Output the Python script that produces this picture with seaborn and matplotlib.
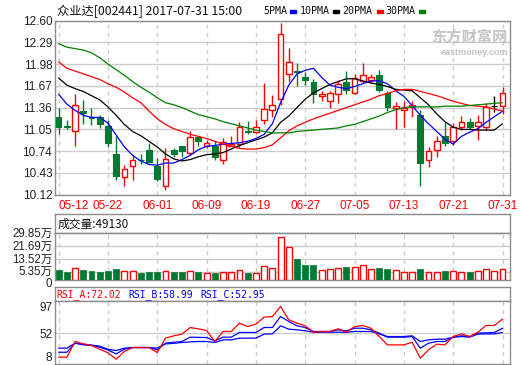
import numpy as np
import pandas as pd
import matplotlib
matplotlib.use("Agg")
import matplotlib.pyplot as plt
import matplotlib.transforms as mtransforms
import seaborn as sns
from matplotlib.patches import Rectangle

sns.set_theme(style="white")
plt.rcParams['font.family'] = ['Liberation Sans', 'Noto Sans CJK SC', 'DejaVu Sans']

# ── Data ───────────────────────────────────────────────────────────────────
date_labels = ['05-12', '05-22', '06-01', '06-09', '06-19',
               '06-27', '07-05', '07-13', '07-21', '07-31']

opens = [11.23, 11.10, 11.02, 11.31, 11.22, 11.23, 11.10, 10.70, 10.37, 10.53,
         10.62, 10.75, 10.53, 10.25, 10.76, 10.81, 10.72, 10.94, 10.82, 10.82,
         10.61, 10.82, 10.84, 11.02, 11.01, 11.19, 11.32, 11.48, 11.84, 11.88,
         11.80, 11.73, 11.52, 11.46, 11.55, 11.73, 11.57, 11.74, 11.76, 11.82,
         11.57, 11.36, 11.33, 11.37, 11.26, 10.61, 10.75, 10.95, 10.88, 11.08,
         11.15, 11.10, 11.08, 11.38, 11.38]
closes = [11.09, 11.09, 11.39, 11.28, 11.21, 11.13, 10.85, 10.38, 10.49, 10.62,
          10.61, 10.59, 10.34, 10.63, 10.70, 10.74, 10.94, 10.89, 10.86, 10.65,
          10.87, 10.84, 11.08, 11.01, 11.08, 11.34, 11.39, 12.41, 12.01, 11.87,
          11.75, 11.56, 11.56, 11.57, 11.70, 11.61, 11.78, 11.82, 11.80, 11.61,
          11.37, 11.38, 11.36, 11.39, 10.57, 10.74, 10.89, 10.86, 11.08, 11.16,
          11.08, 11.16, 11.37, 11.38, 11.57]
highs = [11.36, 11.19, 11.55, 11.47, 11.36, 11.25, 11.18, 10.96, 10.54, 10.69,
         10.70, 10.85, 10.64, 10.78, 10.78, 10.82, 11.02, 10.96, 10.90, 10.88,
         10.93, 10.95, 11.15, 11.17, 11.18, 11.71, 11.54, 12.56, 12.21, 12.00,
         11.87, 11.77, 11.60, 11.60, 11.75, 11.88, 11.84, 12.00, 11.84, 11.90,
         11.60, 11.44, 11.46, 11.46, 11.32, 10.80, 10.95, 11.15, 11.14, 11.24,
         11.21, 11.25, 11.43, 11.53, 11.65]
lows = [10.99, 11.05, 10.81, 11.13, 11.11, 11.07, 10.80, 10.33, 10.25, 10.33,
        10.56, 10.57, 10.32, 10.19, 10.65, 10.65, 10.69, 10.82, 10.78, 10.61,
        10.56, 10.81, 10.80, 10.99, 11.00, 11.12, 11.23, 11.39, 11.73, 11.67,
        11.68, 11.43, 11.46, 11.35, 11.42, 11.56, 11.56, 11.71, 11.71, 11.58,
        11.31, 11.05, 11.08, 11.23, 10.25, 10.52, 10.66, 10.81, 10.83, 11.04,
        11.06, 10.90, 11.04, 11.30, 11.27]

ma5 = [11.55, 11.41, 11.32, 11.25, 11.22, 11.22, 11.14, 10.97, 10.80, 10.68,
       10.60, 10.55, 10.54, 10.57, 10.57, 10.62, 10.68, 10.76, 10.81, 10.82,
       10.84, 10.85, 10.86, 10.88, 10.92, 10.98, 11.13, 11.43, 11.68, 11.84,
       11.89, 11.92, 11.79, 11.68, 11.65, 11.63, 11.66, 11.70, 11.74, 11.74,
       11.70, 11.60, 11.52, 11.39, 11.25, 11.13, 11.02, 10.91, 10.84, 10.95,
       11.01, 11.06, 11.15, 11.23, 11.31]
ma10 = [11.78, 11.68, 11.63, 11.59, 11.53, 11.47, 11.37, 11.25, 11.12, 11.02,
        10.96, 10.88, 10.80, 10.70, 10.63, 10.60, 10.62, 10.66, 10.69, 10.70,
        10.72, 10.77, 10.82, 10.86, 10.90, 10.94, 11.00, 11.15, 11.24, 11.36,
        11.48, 11.57, 11.63, 11.69, 11.73, 11.77, 11.77, 11.74, 11.71, 11.69,
        11.66, 11.62, 11.61, 11.60, 11.50, 11.40, 11.27, 11.16, 11.08, 11.05,
        11.05, 11.04, 11.04, 11.04, 11.13]
ma20 = [12.01, 11.92, 11.88, 11.84, 11.80, 11.76, 11.70, 11.65, 11.58, 11.50,
        11.43, 11.31, 11.20, 11.12, 11.06, 11.02, 10.98, 10.95, 10.92, 10.88,
        10.84, 10.81, 10.78, 10.77, 10.77, 10.79, 10.83, 10.93, 11.03, 11.10,
        11.15, 11.20, 11.24, 11.28, 11.32, 11.36, 11.40, 11.44, 11.48, 11.53,
        11.56, 11.60, 11.62, 11.62, 11.59, 11.56, 11.53, 11.49, 11.45, 11.42,
        11.39, 11.38, 11.37, 11.34, 11.31]
ma30 = [12.27, 12.22, 12.20, 12.18, 12.14, 12.07, 11.98, 11.90, 11.82, 11.73,
        11.65, 11.58, 11.50, 11.43, 11.40, 11.36, 11.31, 11.26, 11.23, 11.20,
        11.16, 11.13, 11.10, 11.07, 11.04, 11.02, 11.00, 11.00, 11.00, 11.02,
        11.03, 11.04, 11.05, 11.06, 11.07, 11.10, 11.12, 11.16, 11.20, 11.24,
        11.29, 11.33, 11.36, 11.37, 11.37, 11.37, 11.37, 11.38, 11.38, 11.38,
        11.39, 11.40, 11.41, 11.42, 11.43]

# volume in 万
volume = [6.46, 5.20, 7.50, 6.46, 6.04, 5.41, 6.04, 7.08, 5.62, 5.62,
          4.79, 5.20, 5.20, 5.62, 5.20, 5.20, 5.62, 5.20, 4.37, 4.58,
          5.20, 5.20, 6.25, 4.58, 4.58, 8.76, 7.50, 26.94, 20.67, 13.35,
          9.59, 9.59, 6.46, 6.88, 7.50, 8.34, 8.13, 9.39, 6.88, 7.71,
          7.08, 6.25, 5.20, 5.20, 7.08, 5.20, 5.20, 6.04, 5.62, 5.20,
          5.41, 5.83, 6.88, 5.83, 6.88]

rsi_a = [17.7, 17.7, 40.1, 36.7, 34.5, 29.0, 24.0, 14.8, 26.0, 31.5,
         31.5, 31.5, 24.4, 44.9, 48.2, 50.6, 60.1, 58.2, 55.8, 40.1,
         54.4, 54.4, 66.3, 61.5, 64.9, 74.9, 75.8, 90.1, 71.1, 66.3,
         62.5, 53.4, 54.4, 54.4, 58.2, 53.4, 61.5, 63.0, 59.1, 47.2,
         35.3, 35.3, 35.3, 39.1, 16.3, 28.2, 36.3, 35.3, 47.2, 51.0,
         47.2, 53.4, 63.0, 63.0, 72.0]
rsi_b = [24.8, 24.8, 37.7, 35.3, 34.5, 32.0, 28.0, 22.4, 29.1, 31.5,
         31.5, 31.5, 28.2, 37.7, 39.0, 40.1, 46.3, 46.0, 45.8, 41.0,
         46.3, 46.3, 53.0, 53.0, 53.0, 60.1, 60.1, 75.8, 68.7, 62.5,
         60.1, 54.4, 54.4, 54.4, 56.8, 55.3, 59.1, 59.1, 56.8, 52.0,
         46.3, 46.3, 46.3, 47.2, 30.6, 37.7, 40.1, 40.1, 46.3, 48.2,
         47.2, 52.0, 52.5, 53.0, 59.0]
rsi_c = [30.6, 30.6, 37.7, 36.3, 35.0, 33.5, 29.0, 27.2, 30.6, 31.5,
         31.5, 31.5, 30.6, 36.7, 37.5, 38.7, 39.5, 40.1, 40.1, 38.7,
         42.5, 42.5, 44.9, 44.9, 44.9, 50.6, 51.0, 62.5, 57.7, 56.8,
         55.3, 53.4, 53.4, 53.4, 53.4, 53.4, 54.4, 54.4, 54.4, 51.0,
         47.2, 47.2, 47.2, 48.2, 40.1, 42.5, 43.4, 43.4, 46.3, 47.2,
         46.3, 50.6, 51.0, 51.0, 52.95]

price_ticks = [12.60, 12.29, 11.98, 11.67, 11.36, 11.05, 10.74, 10.43, 10.12]
vol_ticks = [0, 5.35, 13.52, 21.69, 29.85]
vol_tick_labels = ['0', '5.35万', '13.52万', '21.69万', '29.85万']
rsi_ticks = [8, 52, 97]

df = pd.DataFrame({'open': opens, 'close': closes, 'high': highs, 'low': lows,
                   'ma5': ma5, 'ma10': ma10, 'ma20': ma20, 'ma30': ma30,
                   'vol': volume, 'rsi_a': rsi_a, 'rsi_b': rsi_b, 'rsi_c': rsi_c})
df['idx'] = np.arange(len(df))

RED = '#ff0000'
GREEN = '#007a33'
GRID = '#cccccc'
FRAME = '#8c8c8c'
tick_pos = df['idx'].values[::6]

W, H = 520, 365
fig = plt.figure(figsize=(W / 100, H / 100), dpi=100)
fig.patch.set_facecolor('white')


def box(top, bottom, left=55, right=510):
    return fig.add_axes([left / W, (H - bottom) / H, (right - left) / W, (bottom - top) / H])


def frame(ax):
    for s in ax.spines.values():
        s.set_color(FRAME)
        s.set_linewidth(1)
    ax.set_facecolor('white')


def nudge(label, dy_px):
    off = mtransforms.ScaledTranslation(0, dy_px / 100, fig.dpi_scale_trans)
    label.set_transform(label.get_transform() + off)


XLIM = (-0.44, 54.91)

# ── Main candle panel ─────────────────────────────────────────────────────
ax = box(20.5, 194.7)
frame(ax)
ax.set_xlim(*XLIM)
ax.set_ylim(10.12, 12.60)
ax.set_yticks(price_ticks)
ax.set_yticklabels([f'{v:.2f}' for v in price_ticks])
ax.set_xticks(tick_pos)
ax.set_xticklabels(date_labels)
ax.tick_params(axis='both', length=0, labelsize=8.5, colors='#222222')
ax.tick_params(axis='x', pad=3.5, labelcolor=RED)
ax.tick_params(axis='y', pad=2)
ax.get_xticklabels()[0].set_ha('left')
for y in price_ticks:
    ax.axhline(y, color=GRID, lw=1, zorder=0)
for x in tick_pos:
    ax.axvline(x, color=GRID, lw=1, ls=(0, (3, 3)), zorder=0)

up = df['close'] > df['open']
down = df['close'] < df['open']
flat = df['close'] == df['open']
for mask, col in [(up, RED), (down, GREEN), (flat, 'black')]:
    d = df[mask]
    ax.vlines(d['idx'], d['low'], d['high'], color=col, lw=1, zorder=2)
body_lo = df[['open', 'close']].min(axis=1)
body_h = (df['close'] - df['open']).abs().clip(lower=0.006)
ax.bar(df['idx'][up], body_h[up], bottom=body_lo[up], width=0.7,
       facecolor='white', edgecolor=RED, linewidth=1, zorder=3)
ax.bar(df['idx'][down], body_h[down], bottom=body_lo[down], width=0.7,
       facecolor=GREEN, edgecolor=GREEN, linewidth=0.8, zorder=3)
ax.bar(df['idx'][flat], body_h[flat], bottom=body_lo[flat], width=0.7,
       facecolor='black', edgecolor='black', linewidth=0.8, zorder=3)

ma_colors = {'ma5': '#0000ff', 'ma10': '#000000', 'ma20': '#ff0000', 'ma30': '#008000'}
for col, c in ma_colors.items():
    sns.lineplot(data=df, x='idx', y=col, ax=ax, color=c, lw=0.9, zorder=4)
ax.set_xlabel('')
ax.set_ylabel('')

# watermark
ax.text(0.995, 0.955, '东方财富网', transform=ax.transAxes, ha='right', va='top',
        fontsize=11, fontweight='bold', color='#c4c4c4', family=['Noto Sans CJK SC'])
ax.text(0.995, 0.845, 'eastmoney.com', transform=ax.transAxes, ha='right', va='top',
        fontsize=6.5, fontweight='bold', color='#c4c4c4')

# title and MA legend
fig.text(57 / W, 1 - 11 / H, '众业达[002441] 2017-07-31 15:00', ha='left', va='center',
         fontsize=8.8, color='#111111', family=['Noto Sans CJK SC', 'DejaVu Sans'])
leg = [('5PMA', 263, 290, '#0000ff'), ('10PMA', 300, 333, '#000000'),
       ('20PMA', 342, 377, '#ff0000'), ('30PMA', 385, 419, '#008000')]
for name, tx, mx, c in leg:
    fig.text(tx / W, 1 - 11 / H, name, ha='left', va='center', fontsize=7.2,
             color='#111111', family=['DejaVu Sans Mono'])
    fig.patches.append(Rectangle((mx / W, 1 - 13 / H), 6 / W, 3 / H,
                                 transform=fig.transFigure, color=c))

# ── Volume panel ─────────────────────────────────────────────────────────
hv = box(214, 232.7)
frame(hv)
hv.set_xticks([])
hv.set_yticks([])
hv.text(0.006, 0.45, '成交量:49130', transform=hv.transAxes, ha='left', va='center',
        fontsize=8.5, color='#111111', family=['Noto Sans CJK SC', 'DejaVu Sans'])

av = box(232.7, 280.3)
frame(av)
av.set_xlim(*XLIM)
av.set_ylim(0, 29.85)
av.set_yticks(vol_ticks)
av.set_yticklabels(vol_tick_labels)
av.set_xticks([])
av.tick_params(axis='y', length=0, pad=2, labelsize=8.3, colors='#222222')
vl = av.get_yticklabels()
nudge(vl[0], -2.5)
nudge(vl[1], 1.5)
for y in vol_ticks[1:]:
    av.axhline(y, color=GRID, lw=1, zorder=0)
for x in tick_pos:
    av.axvline(x, color=GRID, lw=1, ls=(0, (3, 3)), zorder=0)
vdown = df['close'] < df['open']
av.bar(df['idx'][~vdown], df['vol'][~vdown], width=0.72, facecolor='white',
       edgecolor=RED, linewidth=1, zorder=3)
av.bar(df['idx'][vdown], df['vol'][vdown], width=0.72, facecolor=GREEN,
       edgecolor=GREEN, linewidth=0.5, zorder=3)

# ── RSI panel ────────────────────────────────────────────────────────────
hr = box(287.3, 301.3)
frame(hr)
hr.set_xticks([])
hr.set_yticks([])
for txt, x0, c in [('RSI_A:72.02', 0.004, RED), ('RSI_B:58.99', 0.162, '#0000ff'),
                   ('RSI_C:52.95', 0.32, '#0000ff')]:
    hr.text(x0, 0.45, txt, transform=hr.transAxes, ha='left', va='center',
            fontsize=7, color=c, family=['DejaVu Sans Mono'])

ar = box(301.3, 364)
frame(ar)
ar.set_xlim(*XLIM)
ar.set_ylim(8, 97.5)
ar.set_yticks(rsi_ticks)
ar.set_yticklabels([str(v) for v in rsi_ticks])
ar.set_xticks([])
ar.tick_params(axis='y', length=0, pad=2, labelsize=8.5, colors='#222222')
lbls = ar.get_yticklabels()
lbls[0].set_va('bottom')
lbls[2].set_va('top')
ar.axhline(52, color=GRID, lw=1, zorder=0)
for x in tick_pos:
    ar.axvline(x, color=GRID, lw=1, ls=(0, (3, 3)), zorder=0)
for col, c in [('rsi_c', '#0000ff'), ('rsi_b', '#0000ff'), ('rsi_a', '#ff0000')]:
    sns.lineplot(data=df, x='idx', y=col, ax=ar, color=c, lw=0.9, zorder=3)
ar.set_xlabel('')
ar.set_ylabel('')

fig.savefig('out.png', dpi=100, facecolor='white')
